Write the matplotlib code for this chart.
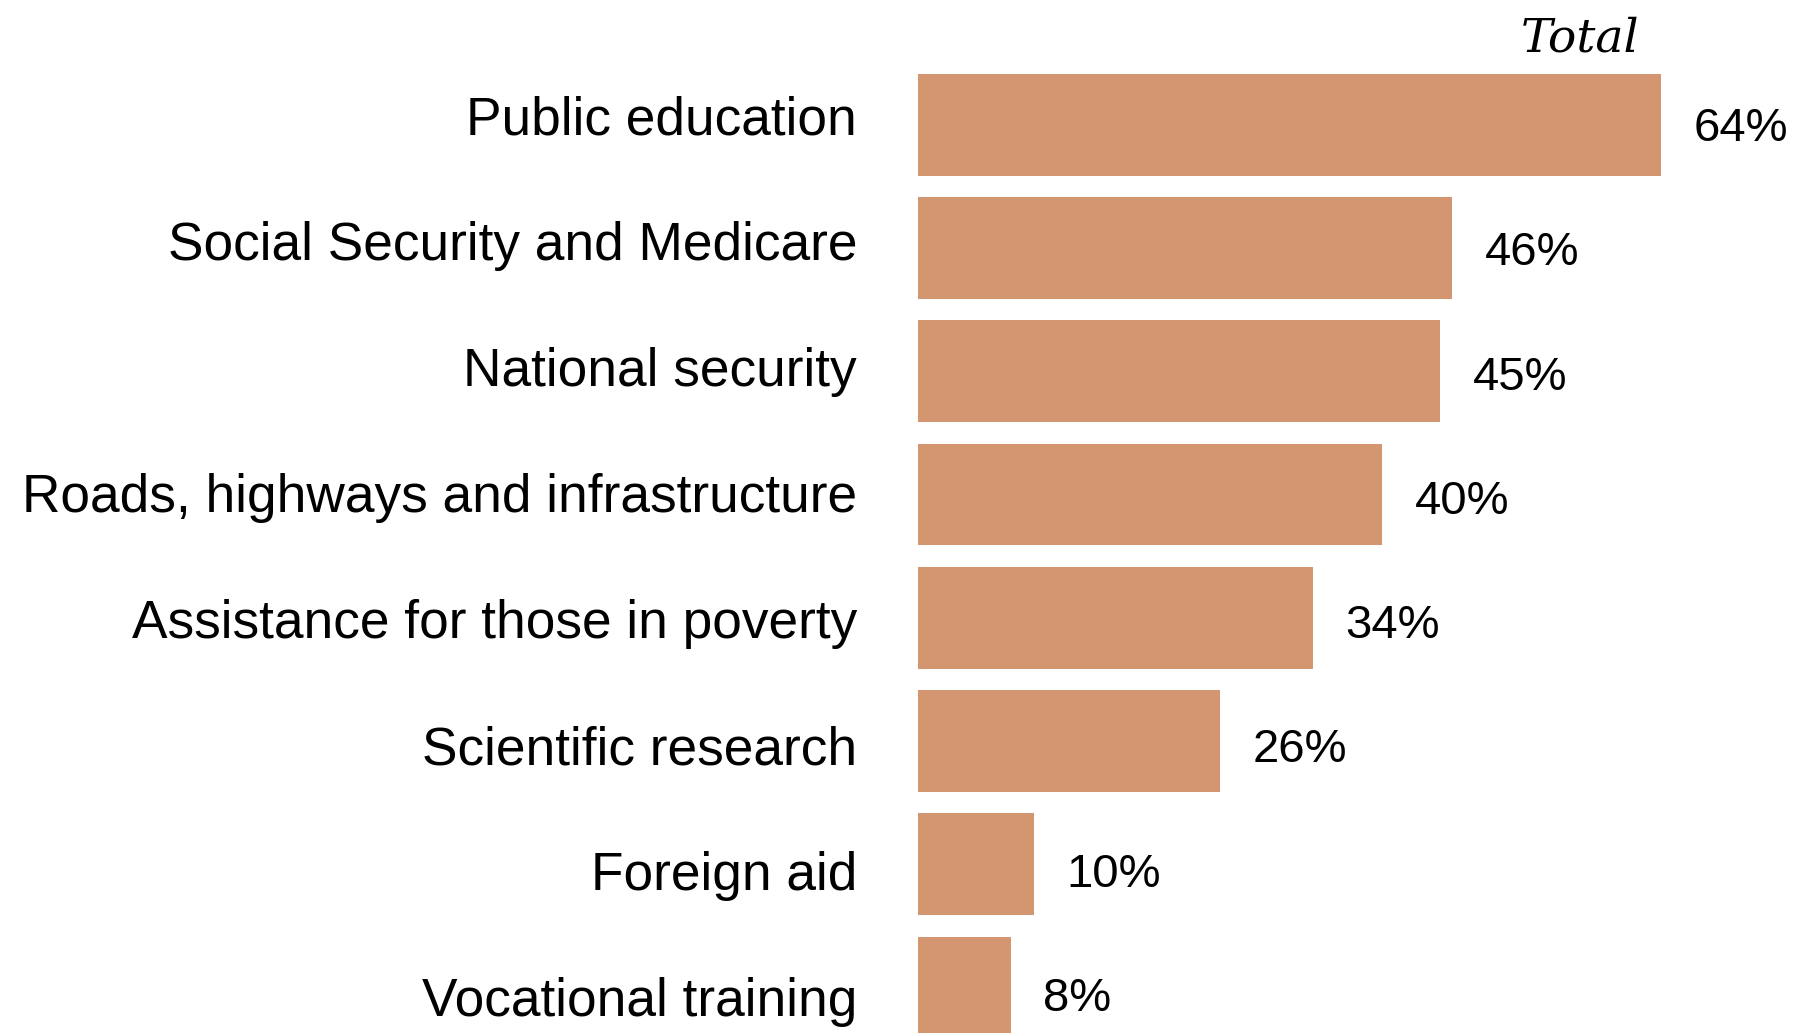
import matplotlib
matplotlib.use("Agg")
import matplotlib.pyplot as plt

categories = [
    "Public education",
    "Social Security and Medicare",
    "National security",
    "Roads, highways and infrastructure",
    "Assistance for those in poverty",
    "Scientific research",
    "Foreign aid",
    "Vocational training",
]
values = [64, 46, 45, 40, 34, 26, 10, 8]
value_labels = ["64%", "46%", "45%", "40%", "34%", "26%", "10%", "8%"]
column_title = "Total"

bar_color = "#D49670"

W, H = 1801, 1033
fig = plt.figure(figsize=(W / 100, H / 100), dpi=100)
fig.patch.set_facecolor("white")

left_px = 918
unit_px = 11.61
xmax = 76
ax = fig.add_axes([left_px / W, 0, xmax * unit_px / W, 1])

pitch = 123.3
c0 = 124.6
ax.set_ylim((H - c0) / pitch, -c0 / pitch)
ax.set_xlim(0, xmax)

ypos = list(range(len(categories)))
ax.barh(ypos, values, height=0.827, color=bar_color, edgecolor="none")

for i, (v, lab) in enumerate(zip(values, value_labels)):
    ax.text(v + 2.8, 0.1338 + 1.0079 * i, lab, ha="left", va="baseline",
            fontsize=34, family="Liberation Sans", color="black")

for i, cat in enumerate(categories):
    ax.text(-61 / unit_px, 0.0787 + 1.0219 * i, cat, ha="right", va="baseline",
            fontsize=38.3, family="Liberation Sans", color="black", clip_on=False)

ax.text(1580 / W, 1 - 51 / H, column_title, transform=fig.transFigure,
        ha="center", va="baseline", fontsize=34, family="DejaVu Serif",
        style="italic", color="black")

ax.axis("off")
fig.savefig("out.png", dpi=100, facecolor="white")
